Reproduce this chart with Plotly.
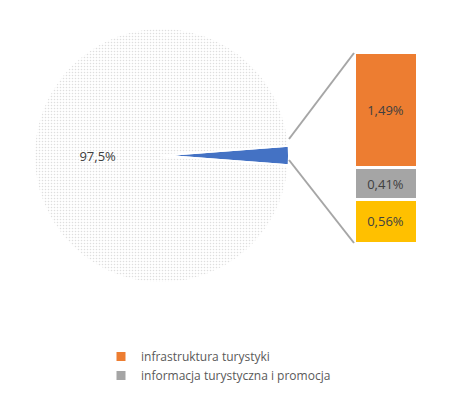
import plotly.graph_objects as go

W, H = 473, 414
pie_labels = ["pozostałe", "wybrane"]
pie_values = [97.5, 2.46]
bar_names = ["infrastruktura turystyki", "informacja turystyczna i promocja", "inne"]
bar_values = [1.49, 0.41, 0.56]
bar_colors = ["#ED7D31", "#A5A5A5", "#FFC000"]

def fmt(v):
    return (f"{v:.2f}" if v < 10 else f"{v:.1f}").replace(".", ",") + "%"

fig = go.Figure()
small = pie_values[1]
fig.add_trace(go.Pie(
    labels=pie_labels, values=[pie_values[1], pie_values[0]], sort=False,
    direction="clockwise", rotation=90 - small / sum(pie_values) * 360 / 2,
    marker=dict(colors=["#4472C4", "#F2F2F2"], line=dict(color="white", width=2),
                pattern=dict(shape=["", "."], fgcolor="#DEDEDE", size=3, solidity=0.2)),
    text=["", "97,5%"], textinfo="text",
    textposition="inside", insidetextfont=dict(color="#404040", size=13),
    domain=dict(x=[26 / W, 281 / W], y=[1 - 275 / H, 1 - 20 / H]),
    showlegend=False, hoverinfo="skip"))

order = [2, 1, 0]  # bottom to top
for i in order:
    fig.add_trace(go.Bar(
        x=["a"], y=[bar_values[i]], name=bar_names[i], marker_color=bar_colors[i],
        marker_line=dict(color="white", width=3), text=[fmt(bar_values[i])],
        textposition="inside", insidetextanchor="middle",
        textfont=dict(color="#404040", size=13), width=1,
        showlegend=(i != 2)))

fig.update_layout(
    width=W, height=H, margin=dict(l=0, r=0, t=0, b=0), barmode="stack",
    paper_bgcolor="white", plot_bgcolor="white",
    font=dict(family="Open Sans", color="#595959", size=12),
    xaxis=dict(domain=[346 / W, 409 / W], visible=False),
    yaxis=dict(domain=[1 - 235 / H, 1 - 44 / H], range=[0, sum(bar_values)], visible=False),
    legend=dict(x=93 / W, y=1 - 334 / H, xanchor="left", yanchor="top",
                traceorder="reversed", font=dict(size=12, color="#595959")),
    uniformtext=dict(mode="show", minsize=12))

for (x0, y0, x1, y1) in [(281, 131, 346, 45), (281, 152, 346, 235)]:
    fig.add_shape(type="line", xref="paper", yref="paper",
                  x0=x0 / W, y0=1 - y0 / H, x1=x1 / W, y1=1 - y1 / H,
                  line=dict(color="#A6A6A6", width=2))

fig.write_html("out.html")
